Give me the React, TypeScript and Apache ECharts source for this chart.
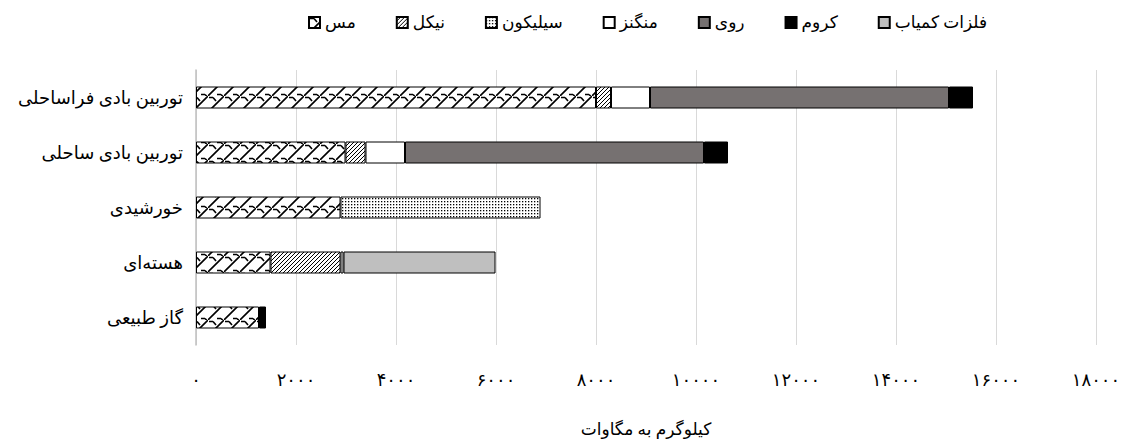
import React, { useEffect, useRef } from "react";
import * as echarts from "echarts";

const categories = [
  "توربین بادی فراساحلی",
  "توربین بادی ساحلی",
  "خورشیدی",
  "هسته‌ای",
  "گاز طبیعی",
];
const copper = [8000, 2990, 2890, 1490, 1260];
const nickel = [300, 400, null, 1400, null];
const silicon = [null, null, 4000, null, null];
const manganese = [780, 790, null, 60, null];
const zinc = [5980, 5980, null, null, null];
const chromium = [480, 480, null, null, 140];
const rareMetals = [null, null, null, 3040, null];

const seriesNames = ["مس", "نیکل", "سیلیکون", "منگنز", "روی", "کروم", "فلزات کمیاب"];
const xTicks = { min: 0, max: 18000, interval: 2000 };
const xAxisTitle = "کیلوگرم به مگاوات";

const toFa = (v: number | string) =>
  String(v).replace(/\d/g, (d) => "۰۱۲۳۴۵۶۷۸۹"[+d]);

function makeTile(w: number, h: number, draw: (ctx: CanvasRenderingContext2D) => void) {
  const c = document.createElement("canvas");
  c.width = w;
  c.height = h;
  const ctx = c.getContext("2d")!;
  ctx.fillStyle = "#fff";
  ctx.fillRect(0, 0, w, h);
  draw(ctx);
  return { image: c, repeat: "repeat", imageWidth: w, imageHeight: h } as any;
}

const FONT = "'Liberation Serif', 'Times New Roman', 'DejaVu Sans', serif";

export default function App() {
  const ref = useRef<HTMLDivElement>(null);
  useEffect(() => {
    document.body.style.margin = "0";
    const chart = echarts.init(ref.current!, undefined, { renderer: "svg" });

    const copperPat = makeTile(16, 16, (ctx) => {
      ctx.strokeStyle = "#000";
      ctx.lineWidth = 1.6;
      ctx.beginPath();
      ctx.moveTo(-1, 17);
      ctx.lineTo(17, -1);
      ctx.moveTo(1, 1.5);
      ctx.lineTo(5, 1.5);
      ctx.moveTo(9, 14.5);
      ctx.lineTo(13, 14.5);
      ctx.moveTo(5, 1.5);
      ctx.lineTo(8, 5);
      ctx.moveTo(13, 14.5);
      ctx.lineTo(15.5, 17);
      ctx.stroke();
    });
    const nickelPat = makeTile(4, 4, (ctx) => {
      ctx.strokeStyle = "#000";
      ctx.lineWidth = 1;
      ctx.beginPath();
      ctx.moveTo(-1, 5);
      ctx.lineTo(5, -1);
      ctx.stroke();
    });
    const siliconPat = makeTile(3, 3, (ctx) => {
      ctx.fillStyle = "#000";
      ctx.fillRect(0, 0, 1.3, 1.3);
    });

    const colors: any[] = [copperPat, nickelPat, siliconPat, "#ffffff", "#767171", "#000000", "#bfbfbf"];
    const dataSets = [copper, nickel, silicon, manganese, zinc, chromium, rareMetals];

    chart.setOption({
      animation: false,
      textStyle: { fontFamily: FONT },
      legend: {
        top: 9,
        left: 303,
        icon: "rect",
        itemWidth: 11,
        itemHeight: 11,
        itemGap: 40,
        textStyle: { fontSize: 17, color: "#000", fontFamily: FONT },
        data: seriesNames,
      },
      grid: { left: 196, right: 29, top: 70, bottom: 100, containLabel: false },
      xAxis: {
        type: "value",
        min: xTicks.min,
        max: xTicks.max,
        interval: xTicks.interval,
        axisLine: { show: false },
        axisTick: { show: false },
        splitLine: { show: true, lineStyle: { color: "#d9d9d9", width: 1 } },
        axisLabel: {
          margin: 26,
          fontSize: 18,
          color: "#000",
          fontFamily: FONT,
          formatter: (v: number) => toFa(v),
        },
        name: xAxisTitle,
        nameLocation: "middle",
        nameGap: 76,
        nameTextStyle: { fontSize: 17, color: "#000", fontFamily: FONT },
      },
      yAxis: {
        type: "category",
        inverse: true,
        data: categories,
        axisLine: { show: true, lineStyle: { color: "#bfbfbf", width: 1.5 } },
        axisTick: { show: false },
        axisLabel: { margin: 13, fontSize: 18, color: "#000", fontFamily: FONT },
      },
      series: seriesNames.map((name, i) => ({
        name,
        type: "bar",
        stack: "total",
        barWidth: 22,
        data: dataSets[i],
        itemStyle: { color: colors[i], borderColor: "#000", borderWidth: 1 },
        emphasis: { disabled: true },
      })),
    });
    return () => chart.dispose();
  }, []);
  return <div ref={ref} style={{ width: 1125, height: 445 }} />;
}
